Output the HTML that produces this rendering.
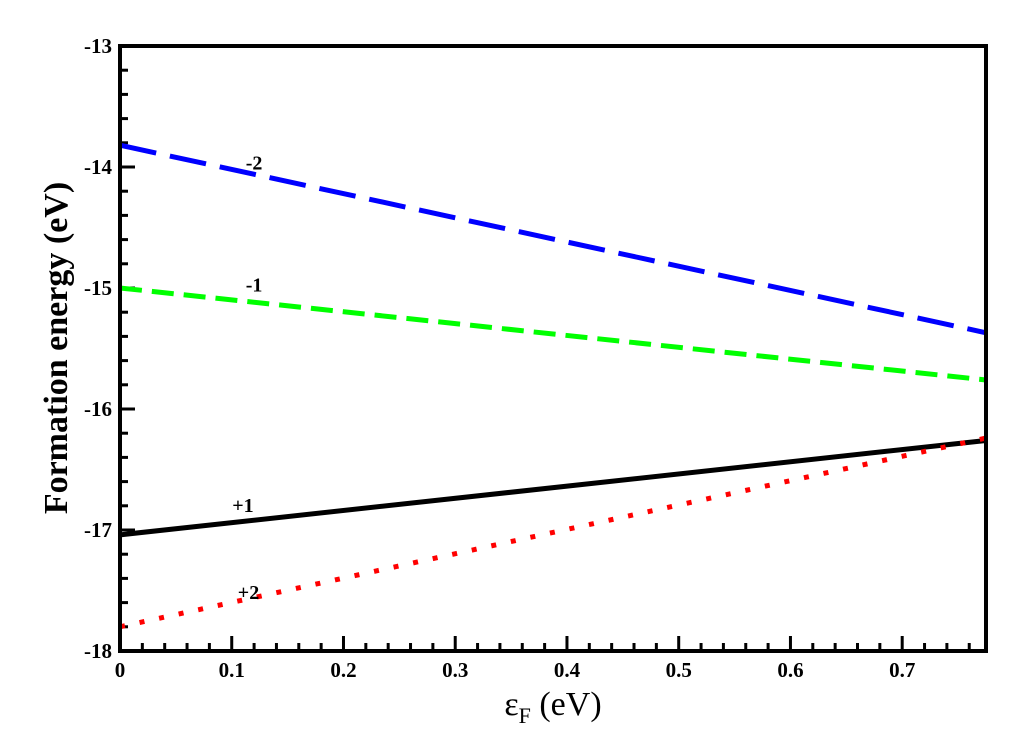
<!DOCTYPE html>
<html><head><meta charset="utf-8"><style>
body{margin:0;background:#fff}
text{font-family:"Liberation Serif",serif;font-weight:bold}
</style></head><body>
<svg id="chart" width="1034" height="737" viewBox="0 0 1034 737" xmlns="http://www.w3.org/2000/svg">
<g id="ticks"></g>
<g id="series"></g>
<rect x="120" y="46" width="866" height="605" fill="none" stroke="#000" stroke-width="4"/>
<text x="553" y="715" font-size="34" font-weight="normal" text-anchor="middle" style="font-weight:normal">ε<tspan font-size="22" dy="8">F</tspan><tspan dy="-8"> (eV)</tspan></text>
<text transform="translate(67,348) rotate(-90)" font-size="34" text-anchor="middle">Formation energy (eV)</text>
</svg>
<script>
const xTicks=[0,0.1,0.2,0.3,0.4,0.5,0.6,0.7];
const xTickLabels=["0","0.1","0.2","0.3","0.4","0.5","0.6","0.7"];
const yTicks=[-18,-17,-16,-15,-14,-13];
const yTickLabels=["-18","-17","-16","-15","-14","-13"];
const seriesNames=["-2","-1","+1","+2"];
const seriesX=[0,0.775];
const seriesM2=[-13.82,-15.37];
const seriesM1=[-15.0,-15.76];
const seriesP1=[-17.04,-16.26];
const seriesP2=[-17.80,-16.24];
const labelPos=[[0.12,-14.02],[0.12,-15.03],[0.11,-16.85],[0.115,-17.57]];
const X0=120,X1=986,XMIN=0,XMAX=0.775,Y0=651,Y1=46,YMIN=-18,YMAX=-13;
const sx=v=>X0+(v-XMIN)/(XMAX-XMIN)*(X1-X0);
const sy=v=>Y0-(v-YMIN)/(YMAX-YMIN)*(Y0-Y1);
const NS="http://www.w3.org/2000/svg";
const tg=document.getElementById('ticks'),sg=document.getElementById('series');
function mk(tag,attrs,parent){const e=document.createElementNS(NS,tag);for(const k in attrs)e.setAttribute(k,attrs[k]);parent.appendChild(e);return e;}
for(let i=0;i<=38;i++){const v=i*0.02;if(v>XMAX)break;const major=i%5===0;
 const l=mk('line',{x1:sx(v),x2:sx(v),y1:Y0,y2:Y0-(major?15:8),stroke:'#000','stroke-width':3},tg);
 
 }
xTicks.forEach((v,i)=>{const t=mk('text',{x:sx(v),y:677,'font-size':21,'text-anchor':'middle'},tg);t.textContent=xTickLabels[i];
 
 });
for(let i=0;i<=25;i++){const v=YMIN+i*0.2;const major=i%5===0;
 const l=mk('line',{x1:X0,x2:X0+(major?15:8),y1:sy(v),y2:sy(v),stroke:'#000','stroke-width':3},tg);
 
 }
yTicks.forEach((v,i)=>{const t=mk('text',{x:112,y:sy(v)+7,'font-size':21,'text-anchor':'end'},tg);t.textContent=yTickLabels[i];
 
 });
const styles=[{c:'#0000ff',d:'37 14',cap:'butt',n:'line-charge-minus2'},{c:'#00ff00',d:'22 10',cap:'butt',n:'line-charge-minus1'},{c:'#000',d:'',cap:'butt',n:'line-charge-plus1'},{c:'#ff0000',d:'5 15',cap:'butt',n:'line-charge-plus2'}];
[seriesM2,seriesM1,seriesP1,seriesP2].forEach((ys,i)=>{const s=styles[i];
 const l=mk('line',{x1:sx(seriesX[0]),y1:sy(ys[0]),x2:sx(seriesX[1]),y2:sy(ys[1]),stroke:s.c,'stroke-width':5,'stroke-dasharray':s.d,'stroke-linecap':s.cap},sg);
 
 
 const t=mk('text',{x:sx(labelPos[i][0]),y:sy(labelPos[i][1]),'font-size':20,'text-anchor':'middle'},sg);t.textContent=seriesNames[i];
 
 });
</script>
</body></html>
